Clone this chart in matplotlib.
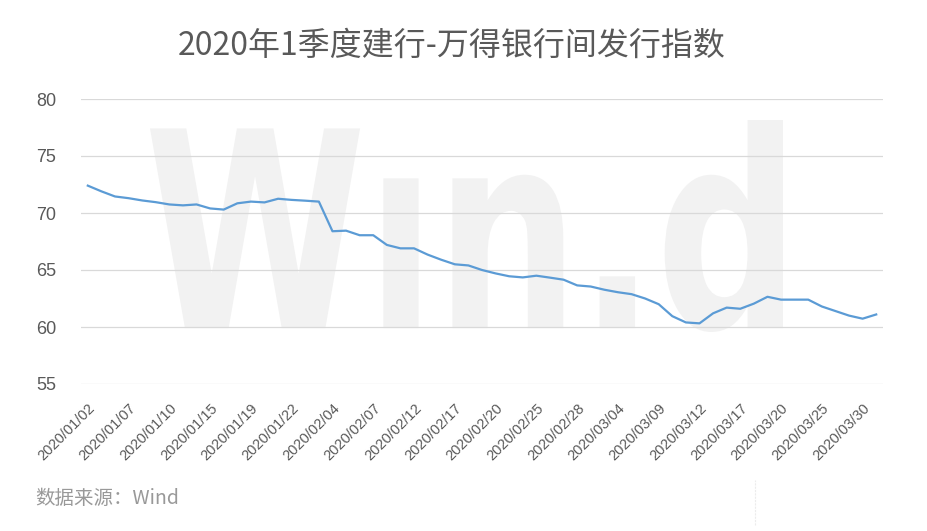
import matplotlib
matplotlib.use("Agg")
import matplotlib.pyplot as plt
from matplotlib.textpath import TextPath
from matplotlib.font_manager import FontProperties
from matplotlib.patches import PathPatch
from matplotlib.transforms import Affine2D
from matplotlib.lines import Line2D

# ---------------- data ----------------
dates = [
    "2020/01/02", "2020/01/03", "2020/01/06", "2020/01/07", "2020/01/08", "2020/01/09",
    "2020/01/10", "2020/01/13", "2020/01/14", "2020/01/15", "2020/01/16", "2020/01/17",
    "2020/01/19", "2020/01/20", "2020/01/21", "2020/01/22", "2020/01/23", "2020/02/03",
    "2020/02/04", "2020/02/05", "2020/02/06", "2020/02/07", "2020/02/10", "2020/02/11",
    "2020/02/12", "2020/02/13", "2020/02/14", "2020/02/17", "2020/02/18", "2020/02/19",
    "2020/02/20", "2020/02/21", "2020/02/24", "2020/02/25", "2020/02/26", "2020/02/27",
    "2020/02/28", "2020/03/02", "2020/03/03", "2020/03/04", "2020/03/05", "2020/03/06",
    "2020/03/09", "2020/03/10", "2020/03/11", "2020/03/12", "2020/03/13", "2020/03/16",
    "2020/03/17", "2020/03/18", "2020/03/19", "2020/03/20", "2020/03/23", "2020/03/24",
    "2020/03/25", "2020/03/26", "2020/03/27", "2020/03/30", "2020/03/31",
]
index_values = [
    72.4, 71.9, 71.45, 71.3, 71.1, 70.95,
    70.75, 70.67, 70.75, 70.4, 70.3, 70.85,
    71.0, 70.93, 71.25, 71.15, 71.08, 71.0,
    68.4, 68.45, 68.05, 68.05, 67.2, 66.9,
    66.9, 66.35, 65.9, 65.5, 65.4, 65.0,
    64.7, 64.45, 64.35, 64.5, 64.33, 64.15,
    63.65, 63.55, 63.27, 63.05, 62.88, 62.5,
    62.0, 60.95, 60.4, 60.32, 61.2, 61.7,
    61.6, 62.05, 62.65, 62.4, 62.4, 62.4,
    61.8, 61.4, 61.0, 60.73, 61.1,
]
y_ticks = [55, 60, 65, 70, 75, 80]
label_step = 3

title_text = "2020年1季度建行-万得银行间发行指数"
source_text = "数据来源：Wind"
watermark_text = "W\u0131n.d"

# ---------------- figure ----------------
W, H = 927, 531
fig = plt.figure(figsize=(W / 100, H / 100), dpi=100)
fig.patch.set_facecolor("white")

ax_l, ax_r, ax_t, ax_b = 81, 883, 99, 384
ax = fig.add_axes([ax_l / W, 1 - ax_b / H, (ax_r - ax_l) / W, (ax_b - ax_t) / H])
ax.set_facecolor("none")

# watermark
fp_wm = FontProperties(family="DejaVu Sans", weight="bold")
tp = TextPath((0, 0), watermark_text, prop=fp_wm, size=100)
ext = tp.get_extents()
bx0, bx1 = 150 / W, 783 / W
by0, by1 = 1 - 332 / H, 1 - 120 / H
tr = (Affine2D()
      .translate(-ext.x0, -ext.y0)
      .scale((bx1 - bx0) / ext.width, (by1 - by0) / ext.height)
      .translate(bx0, by0)) + fig.transFigure
wm = PathPatch(tp, facecolor="#f2f2f2", edgecolor="none", transform=tr, zorder=-5)
fig.add_artist(wm)

x = list(range(len(dates)))
ax.plot(x, index_values, color="#5b9bd5", lw=1.6, zorder=3, solid_joinstyle="round")

ax.set_xlim(-0.5, len(dates) - 0.5)
ax.set_ylim(55, 80)
ax.set_yticks(y_ticks)
ax.yaxis.grid(True, color="#d9d9d9", lw=0.9)
ax.set_axisbelow(True)
for s in ax.spines.values():
    s.set_visible(False)

tick_pos = x[::label_step]
ax.set_xticks(tick_pos)
ax.set_xticklabels([dates[i] for i in tick_pos], rotation=45, ha="right",
                   rotation_mode="anchor", fontsize=10.5, color="#595959",
                   family="Liberation Sans")
ax.tick_params(axis="x", length=0, pad=12)
ax.tick_params(axis="y", length=0, pad=18, labelsize=13, labelcolor="#595959")
for lab in ax.get_yticklabels():
    lab.set_family("Liberation Sans")

fig.text(451.5 / W, 1 - 46 / H, title_text, ha="center", va="center",
         fontsize=23, color="#595959", family=["Noto Sans CJK SC", "DejaVu Sans"])
fig.text(35 / W, 1 - 499 / H, source_text, ha="left", va="center",
         fontsize=14, color="#999999", family=["Noto Sans CJK SC", "DejaVu Sans"])

fig.add_artist(Line2D([755 / W, 755 / W], [1 - 525 / H, 1 - 480 / H],
                      transform=fig.transFigure, color="#ececec", lw=0.8,
                      linestyle=(0, (2, 1))))

fig.savefig("out.png", dpi=100, facecolor="white")
